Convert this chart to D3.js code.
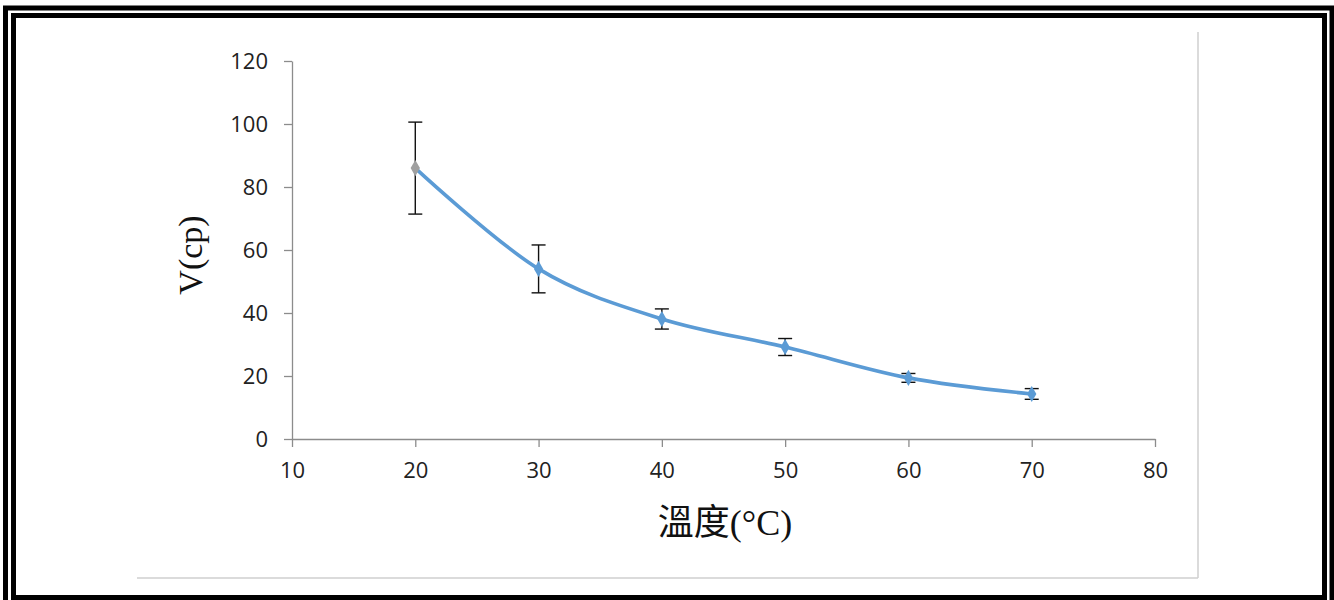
<!DOCTYPE html>
<html>
<head>
<meta charset="utf-8">
<script src="https://cdn.jsdelivr.net/npm/d3@7"></script>
<style>
  html, body { margin: 0; padding: 0; background: #fff; }
  svg { display: block; }
</style>
</head>
<body>
<svg id="chart" width="1334" height="600"></svg>
<script>
// ---- data ----
const temperatures = [20, 30, 40, 50, 60, 70];
const viscosity    = [86.0, 54.0, 38.1, 29.2, 19.4, 14.3];
const errors       = [14.6, 7.6, 3.2, 2.7, 1.4, 1.7];
const xTicks = [10, 20, 30, 40, 50, 60, 70, 80];
const yTicks = [0, 20, 40, 60, 80, 100, 120];
const xTitle = "溫度(°C)";
const yTitle = "V(cp)";

const svg = d3.select("#chart");

// page frame (double black border)
svg.append("rect").attr("x", 5.5).attr("y", 8).attr("width", 1326.5).attr("height", 600)
  .attr("fill", "none").attr("stroke", "#000").attr("stroke-width", 5);
svg.append("rect").attr("x", 13.5).attr("y", 15.5).attr("width", 1311).attr("height", 582)
  .attr("fill", "none").attr("stroke", "#000").attr("stroke-width", 5);

// chart area light border (right and bottom)
svg.append("line").attr("x1", 1198).attr("x2", 1198).attr("y1", 32).attr("y2", 578)
  .attr("stroke", "#cfcfcf").attr("stroke-width", 1.5);
svg.append("line").attr("x1", 137).attr("x2", 1198).attr("y1", 578).attr("y2", 578)
  .attr("stroke", "#cfcfcf").attr("stroke-width", 1.5);

// scales
const x = d3.scaleLinear().domain([10, 80]).range([292, 1155]);
const y = d3.scaleLinear().domain([0, 120]).range([439, 61]);

const tickFont = "'Open Sans', 'Liberation Sans', sans-serif";

// y axis
const yAxis = svg.append("g").attr("transform", `translate(${x(10)},0)`)
  .call(d3.axisLeft(y).tickValues(yTicks).tickSize(8).tickPadding(16).tickSizeOuter(0));
yAxis.select(".domain").attr("stroke", "#8c8c8c").attr("stroke-width", 1.3);
yAxis.selectAll(".tick line").attr("stroke", "#8c8c8c").attr("stroke-width", 1.3);
yAxis.selectAll(".tick text").attr("font-family", tickFont).attr("font-size", 22)
  .attr("fill", "#222").attr("dy", "0.36em");

// x axis
const xAxis = svg.append("g").attr("transform", `translate(0,${y(0)})`)
  .call(d3.axisBottom(x).tickValues(xTicks).tickSize(8).tickPadding(15).tickSizeOuter(0));
xAxis.select(".domain").attr("stroke", "#8c8c8c").attr("stroke-width", 1.3);
xAxis.selectAll(".tick line").attr("stroke", "#8c8c8c").attr("stroke-width", 1.3);
xAxis.selectAll(".tick text").attr("font-family", tickFont).attr("font-size", 22)
  .attr("fill", "#222");

// axis titles
svg.append("text")
  .attr("transform", `translate(202,255) rotate(-90)`)
  .attr("text-anchor", "middle")
  .attr("font-family", "'Liberation Serif', 'DejaVu Serif', serif")
  .attr("font-size", 34).attr("fill", "#111")
  .text(yTitle);

svg.append("text")
  .attr("x", 725).attr("y", 535)
  .attr("text-anchor", "middle")
  .attr("font-family", "'Liberation Serif', 'Noto Sans CJK TC', serif")
  .attr("font-size", 36).attr("fill", "#111")
  .text(xTitle);

const pts = temperatures.map((t, i) => ({ t, v: viscosity[i], e: errors[i] }));

// smoothed line
const line = d3.line().x(d => x(d.t)).y(d => y(d.v)).curve(d3.curveCardinal.tension(0));
svg.append("path").datum(pts).attr("d", line)
  .attr("fill", "none").attr("stroke", "#5b9bd5").attr("stroke-width", 3.6);

// error bars
const eb = svg.append("g").attr("stroke", "#111").attr("stroke-width", 1.4);
pts.forEach(d => {
  const cx = x(d.t);
  eb.append("line").attr("x1", cx).attr("x2", cx).attr("y1", y(d.v + d.e)).attr("y2", y(d.v - d.e));
  eb.append("line").attr("x1", cx - 7).attr("x2", cx + 7).attr("y1", y(d.v + d.e)).attr("y2", y(d.v + d.e));
  eb.append("line").attr("x1", cx - 7).attr("x2", cx + 7).attr("y1", y(d.v - d.e)).attr("y2", y(d.v - d.e));
});

// markers (diamonds)
const diamond = d3.symbol().type(d3.symbolDiamond).size(75);
svg.append("g").selectAll("path").data(pts).join("path")
  .attr("d", diamond)
  .attr("transform", d => `translate(${x(d.t)},${y(d.v)})`)
  .attr("fill", (d, i) => i === 0 ? "#a0a0a0" : "#5b9bd5");
</script>
</body>
</html>
